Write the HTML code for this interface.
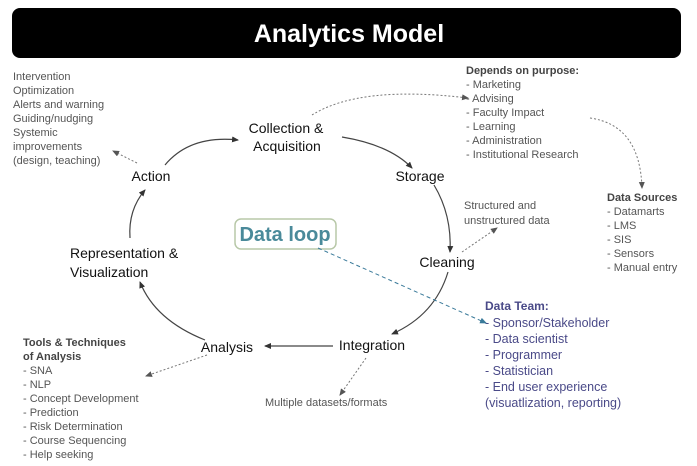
<!DOCTYPE html>
<html><head><meta charset="utf-8"><style>
html,body{margin:0;padding:0;background:#fff;}
svg{display:block;font-family:"Liberation Sans",Arial,sans-serif;}
.n{font-size:14px;fill:#111;}
.s{font-size:11px;fill:#555;}
.b{font-size:11px;fill:#444;font-weight:bold;}
.t{font-size:12.5px;fill:#4a4a88;}
</style></head><body>
<svg width="697" height="466" viewBox="0 0 697 466" xmlns="http://www.w3.org/2000/svg">
<defs>
<marker id="a" markerWidth="8" markerHeight="8" refX="6" refY="3" orient="auto" markerUnits="userSpaceOnUse"><path d="M0,0 L7,3 L0,6 z" fill="#333"/></marker>
<marker id="g" markerWidth="8" markerHeight="8" refX="6" refY="3" orient="auto" markerUnits="userSpaceOnUse"><path d="M0,0 L7,3 L0,6 z" fill="#555"/></marker>
<marker id="bl" markerWidth="8" markerHeight="8" refX="6" refY="3" orient="auto" markerUnits="userSpaceOnUse"><path d="M0,0 L7,3 L0,6 z" fill="#3a7a9a"/></marker>
</defs>
<rect x="12" y="8" width="669" height="50" rx="8" fill="#000"/>
<text x="349" y="42" text-anchor="middle" font-size="25" font-weight="bold" fill="#fff">Analytics Model</text>

<g class="s">
<text x="13" y="80">Intervention</text><text x="13" y="94">Optimization</text><text x="13" y="108">Alerts and warning</text><text x="13" y="122">Guiding/nudging</text><text x="13" y="136">Systemic</text><text x="13" y="150">improvements</text><text x="13" y="164">(design, teaching)</text>
</g>
<text class="n" x="286" y="133" text-anchor="middle">Collection &amp;</text>
<text class="n" x="287" y="151" text-anchor="middle">Acquisition</text>
<text class="n" x="151" y="181" text-anchor="middle">Action</text>
<text class="n" x="420" y="181" text-anchor="middle">Storage</text>
<text class="n" x="70" y="258">Representation &amp;</text>
<text class="n" x="70" y="277">Visualization</text>
<text class="n" x="447" y="267" text-anchor="middle">Cleaning</text>
<text class="n" x="227" y="352" text-anchor="middle">Analysis</text>
<text class="n" x="372" y="350" text-anchor="middle">Integration</text>

<rect x="235" y="219" width="101" height="30" rx="6" fill="#fff" stroke="#b8c8a8" stroke-width="1.5"/>
<text x="285" y="241" text-anchor="middle" font-size="20" font-weight="bold" fill="#4a8a9a">Data loop</text>

<text class="b" x="466" y="74">Depends on purpose:</text>
<g class="s"><text x="466" y="88">- Marketing</text><text x="466" y="102">- Advising</text><text x="466" y="116">- Faculty Impact</text><text x="466" y="130">- Learning</text><text x="466" y="144">- Administration</text><text x="466" y="158">- Institutional Research</text></g>
<g class="s" font-size="10.5"><text x="464" y="209">Structured and</text><text x="464" y="224">unstructured data</text></g>
<text class="b" x="607" y="201">Data Sources</text>
<g class="s"><text x="607" y="215">- Datamarts</text><text x="607" y="229">- LMS</text><text x="607" y="243">- SIS</text><text x="607" y="257">- Sensors</text><text x="607" y="271">- Manual entry</text></g>

<text x="485" y="310" font-size="12" font-weight="bold" fill="#4a4a88">Data Team:</text>
<g class="t"><text x="485" y="327">- Sponsor/Stakeholder</text><text x="485" y="343">- Data scientist</text><text x="485" y="359">- Programmer</text><text x="485" y="375">- Statistician</text><text x="485" y="391">- End user experience</text><text x="485" y="407">(visuatlization, reporting)</text></g>

<text class="b" x="23" y="346">Tools &amp; Techniques</text>
<text class="b" x="23" y="360">of Analysis</text>
<g class="s" font-size="10.5"><text x="23" y="374">- SNA</text><text x="23" y="388">- NLP</text><text x="23" y="402">- Concept Development</text><text x="23" y="416">- Prediction</text><text x="23" y="430">- Risk Determination</text><text x="23" y="444">- Course Sequencing</text><text x="23" y="458">- Help seeking</text></g>
<text class="s" x="265" y="406" font-size="10">Multiple datasets/formats</text>

<g fill="none" stroke="#444" stroke-width="1.2">
<path d="M165,165 Q190,135 238,140" marker-end="url(#a)"/>
<path d="M342,137 Q390,145 412,168" marker-end="url(#a)"/>
<path d="M434,185 Q452,215 450,252" marker-end="url(#a)"/>
<path d="M448,272 Q435,315 392,334" marker-end="url(#a)"/>
<path d="M333,346 L265,346" marker-end="url(#a)"/>
<path d="M205,340 Q155,320 140,282" marker-end="url(#a)"/>
<path d="M130,238 Q128,210 145,190" marker-end="url(#a)"/>
</g>
<g fill="none" stroke="#777" stroke-width="1" stroke-dasharray="2,2">
<path d="M137,163 L113,151" marker-end="url(#g)"/>
<path d="M312,115 Q360,85 468,98" marker-end="url(#g)"/>
<path d="M590,118 Q640,125 642,188" marker-end="url(#g)"/>
<path d="M462,252 L497,228" marker-end="url(#g)"/>
<path d="M207,355 L146,376" marker-end="url(#g)"/>
<path d="M366,358 L340,395" marker-end="url(#g)"/>
</g>
<path d="M318,248 L486,323" fill="none" stroke="#3a7a9a" stroke-width="1" stroke-dasharray="4,3" marker-end="url(#bl)"/>
</svg>
</body></html>
